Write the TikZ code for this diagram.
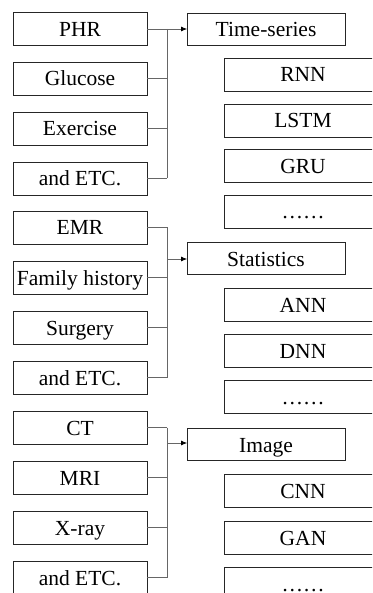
\documentclass[tikz,border=0pt]{standalone}
\usepackage{fontspec}
\setmainfont{Liberation Serif}
\usetikzlibrary{arrows.meta}
\begin{document}
\begin{tikzpicture}[x=1pt,y=-1pt,
  box/.style={draw=black!85, line width=0.9pt, minimum height=33pt, inner sep=0pt,
    font=\fontsize{21.5}{24}\selectfont, text height=17.5pt, text depth=2.5pt},
  src/.style={box, minimum width=134pt},
  cat/.style={box, minimum width=158pt, minimum height=32pt},
  model/.style={box, minimum width=158pt},
  link/.style={draw=black!60, line width=0.7pt},
  feed/.style={link, -{Latex[length=6pt,width=5pt,color=black]}, shorten >=-0.5pt}]
\useasboundingbox (0,0) rectangle (372,593);
\clip (0,0) rectangle (372,593);

% data sources
\node[src] (phr)  at (80,29)    {PHR};
\node[src] (glu)  at (80,78.5)  {Glucose};
\node[src] (exe)  at (80,128.5) {Exercise};
\node[src] (etc1) at (80,178.5) {and ETC.};

\node[src] (emr)  at (80,227.5) {EMR};
\node[src] (fam)  at (80,277.5) {Family history};
\node[src] (sur)  at (80,327.5) {Surgery};
\node[src] (etc2) at (80,377.5) {and ETC.};

\node[src] (ct)   at (80,427.5) {CT};
\node[src] (mri)  at (80,477.5) {MRI};
\node[src] (xr)   at (80,527.5) {X-ray};
\node[src] (etc3) at (80,577.5) {and ETC.};

% data categories
\node[cat] (ts)   at (266,29)    {Time-series};
\node[cat] (st)   at (266,258.5) {Statistics};
\node[cat] (im)   at (266,444.5) {Image};

% models
\node[model] (rnn)  at (303,74.5)  {RNN};
\node[model] (lstm) at (303,120.5) {LSTM};
\node[model] (gru)  at (303,166)   {GRU};
\node[model] (m1)   at (303,211.5) {……};
\node[model] (ann)  at (303,305)   {ANN};
\node[model] (dnn)  at (303,350.5) {DNN};
\node[model] (m2)   at (303,396.5) {……};
\node[model] (cnn)  at (303,491)   {CNN};
\node[model] (gan)  at (303,537.5) {GAN};
\node[model] (m3)   at (303,583.5) {……};

% trunks
\coordinate (t1) at (167,29);
\coordinate (t2) at (167,259);
\coordinate (t3) at (167,443);

\foreach \n in {phr,glu,exe,etc1}
  \draw[link] (\n.east) -- (\n.east -| t1);
\draw[link] (phr.east -| t1) -- (etc1.east -| t1);
\draw[feed] (t1) -- (ts.west);

\foreach \n in {emr,fam,sur,etc2}
  \draw[link] (\n.east) -- (\n.east -| t2);
\draw[link] (emr.east -| t2) -- (etc2.east -| t2);
\draw[feed] (t2) -- (t2 -| st.west);

\foreach \n in {ct,mri,xr,etc3}
  \draw[link] (\n.east) -- (\n.east -| t3);
\draw[link] (ct.east -| t3) -- (etc3.east -| t3);
\draw[feed] (t3) -- (t3 -| im.west);
\end{tikzpicture}
\end{document}
